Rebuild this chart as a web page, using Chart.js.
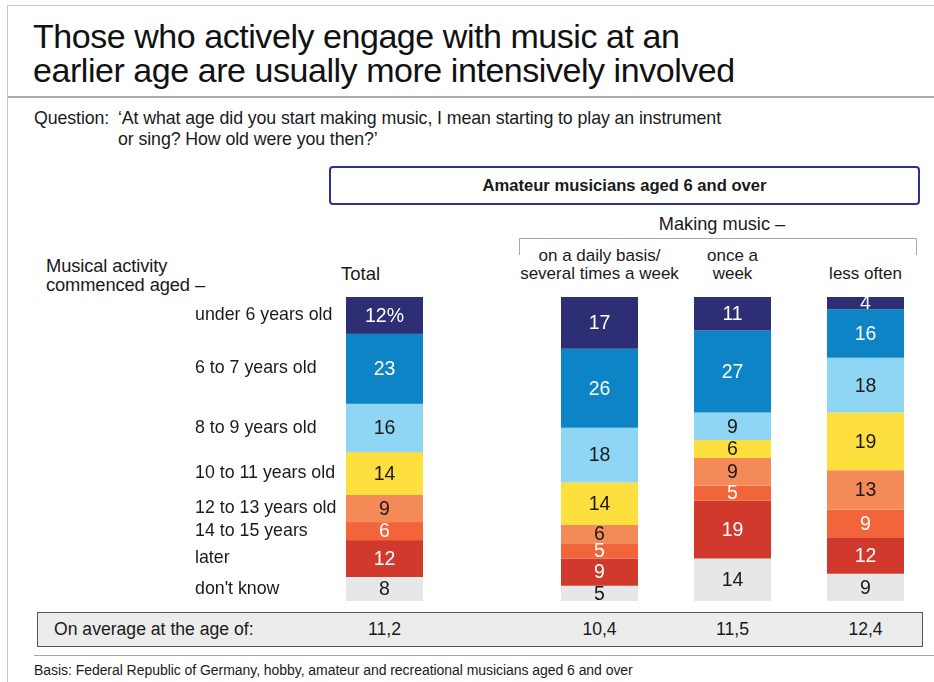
<!DOCTYPE html>
<html>
<head>
<meta charset="utf-8">
<script src="https://cdn.jsdelivr.net/npm/chart.js@4.4.1/dist/chart.umd.min.js"></script>
<style>
  body { margin: 0; background: #fff; font-family: "Liberation Sans", Arial, sans-serif; color: #1a1a1a; }
  #page { position: relative; width: 934px; height: 682px; overflow: hidden; }
  .abs { position: absolute; white-space: nowrap; }
  .frame-top { left: 7px; top: 5px; width: 927px; height: 1px; background: #c8c8c8; }
  .frame-left { left: 7px; top: 5px; width: 1px; height: 677px; background: #c8c8c8; }
  .title { left: 33px; top: 19px; font-size: 34px; line-height: 34px; letter-spacing: -0.45px; color: #111; }
  .rule { left: 8px; top: 96px; width: 926px; height: 2px; background: #ababab; }
  .q { font-size: 17.8px; line-height: 21px; letter-spacing: -0.1px; }
  .hdrbox { left: 329px; top: 166px; width: 587px; height: 35px; border: 2px solid #2e3192; border-radius: 4px;
            font-size: 16.6px; font-weight: bold; text-align: center; line-height: 35px; }
  .col { font-size: 17px; line-height: 18px; text-align: center; transform: translateX(-50%); }
  .bracket { left: 519px; top: 238px; width: 396px; height: 16px; border: 1px solid #a8a8a8; border-bottom: none; }
  .avgbox { left: 37px; top: 612px; width: 884px; height: 33px; background: #ececec; border: 1px solid #555; }
  .avg { top: 619px; font-size: 17.6px; }
  .avgval { transform: translateX(-50%); }
  .rule2 { left: 34px; top: 655px; width: 900px; height: 1px; background: #a8a8a8; }
  .basis { left: 34px; top: 662px; font-size: 14px; letter-spacing: -0.05px; }
  canvas { position: absolute; }
</style>
</head>
<body>
<div id="page">
  <div class="abs frame-top"></div>
  <div class="abs frame-left"></div>
  <div class="abs title">Those who actively engage with music at an<br>earlier age are usually more intensively involved</div>
  <div class="abs rule"></div>
  <div class="abs q" style="left:34px; top:108px;">Question:</div>
  <div class="abs q" style="left:118px; top:108px;">‘At what age did you start making music, I mean starting to play an instrument<br>or sing? How old were you then?’</div>
  <div class="abs hdrbox">Amateur musicians aged 6 and over</div>
  <div class="abs col" style="left:722px; top:215px; font-size:18.2px;">Making music –</div>
  <div class="abs bracket"></div>
  <div class="abs q" style="left:46px; top:256px; line-height:19px; font-size:18.3px;">Musical activity<br>commenced aged –</div>
  <div id="colHeads"></div>
  <div class="abs avgbox"></div>
  <div class="abs avg" style="left:54px;">On average at the age of:</div>
  <div id="avgVals"></div>
  <div class="abs rule2"></div>
  <div class="abs basis">Basis: Federal Republic of Germany, hobby, amateur and recreational musicians aged 6 and over</div>

  <canvas id="totalChart" style="left:180px; top:290px;" width="260" height="320"></canvas>
  <canvas id="freqChart" style="left:520px; top:290px;" width="414" height="320"></canvas>
</div>

<script>
// ── Data ─────────────────────────────────────────────────────
const ageGroups = [
  "under 6 years old", "6 to 7 years old", "8 to 9 years old", "10 to 11 years old",
  "12 to 13 years old", "14 to 15 years", "later", "don't know"
];
const columnHeads = [
  ["", "Total"],
  ["on a daily basis/", "several times a week"],
  ["once a", "week"],
  ["", "less often"]
];
const totalShares     = [12, 23, 16, 14, 9, 6, 12, 8];
const dailyShares     = [17, 26, 18, 14, 6, 5, 9, 5];
const weeklyShares    = [11, 27, 9, 6, 9, 5, 19, 14];
const lessOftenShares = [4, 16, 18, 19, 13, 9, 12, 9];
const averageAges     = ["11,2", "10,4", "11,5", "12,4"];

const segmentColors = ["#2d2e74", "#0c84c6", "#8fd5f4", "#fde03d", "#f58a59", "#f2653b", "#d0392c", "#e6e7e9"];
const labelColors   = ["#fff", "#fff", "#1a1a1a", "#1a1a1a", "#1a1a1a", "#fff", "#fff", "#1a1a1a"];

// ── Shared options ───────────────────────────────────────────
function baseOptions(padding, catPct) {
  return {
    responsive: false,
    animation: false,
    layout: { padding },
    datasets: { bar: { barPercentage: 1, categoryPercentage: catPct } },
    plugins: { legend: { display: false }, tooltip: { enabled: false } },
    scales: {
      x: { stacked: true, display: false },
      y: { stacked: true, display: false, min: 0, max: 100, reverse: true }
    }
  };
}

// Value printed in the middle of every segment
const segmentValues = {
  id: "segmentValues",
  afterDatasetsDraw(chart) {
    const ctx = chart.ctx;
    ctx.save();
    ctx.font = "19.5px 'Liberation Sans', Arial, sans-serif";
    ctx.textAlign = "center";
    ctx.textBaseline = "middle";
    chart.data.datasets.forEach((ds, i) => {
      chart.getDatasetMeta(i).data.forEach((bar, j) => {
        let txt = String(ds.data[j]);
        if (chart.canvas.id === "totalChart" && i === 0) txt += "%";
        ctx.fillStyle = labelColors[i];
        ctx.fillText(txt, bar.x, (bar.y + bar.base) / 2 + 1);
      });
    });
    ctx.restore();
  }
};

// Age group names to the left of the Total bar
const rowLabels = {
  id: "rowLabels",
  afterDatasetsDraw(chart) {
    const ctx = chart.ctx;
    ctx.save();
    ctx.font = "17.8px 'Liberation Sans', Arial, sans-serif";
    ctx.textAlign = "left";
    ctx.textBaseline = "middle";
    ctx.fillStyle = "#1a1a1a";
    ageGroups.forEach((name, i) => {
      const bar = chart.getDatasetMeta(i).data[0];
      ctx.fillText(name, 15, (bar.y + bar.base) / 2);
    });
    ctx.restore();
  }
};

// ── Charts ───────────────────────────────────────────────────
const totalChart = new Chart(document.getElementById("totalChart"), {
  type: "bar",
  data: {
    labels: ["Total"],
    datasets: ageGroups.map((g, i) => ({
      label: g, data: [totalShares[i]], backgroundColor: segmentColors[i], borderWidth: 0
    }))
  },
  options: baseOptions({ left: 166, right: 17, top: 7, bottom: 9 }, 1),
  plugins: [segmentValues, rowLabels]
});

const freqChart = new Chart(document.getElementById("freqChart"), {
  type: "bar",
  data: {
    labels: ["daily", "weekly", "less often"],
    datasets: ageGroups.map((g, i) => ({
      label: g,
      data: [dailyShares[i], weeklyShares[i], lessOftenShares[i]],
      backgroundColor: segmentColors[i],
      borderWidth: 0
    }))
  },
  options: baseOptions({ left: 13, right: 2, top: 7, bottom: 9 }, 77 / 133),
  plugins: [segmentValues]
});

// ── Column headings and averages, placed on the bar centres ──
const centres = [
  180 + totalChart.scales.x.getPixelForValue(0),
  520 + freqChart.scales.x.getPixelForValue(0),
  520 + freqChart.scales.x.getPixelForValue(1),
  520 + freqChart.scales.x.getPixelForValue(2)
];
const heads = document.getElementById("colHeads");
const avgs = document.getElementById("avgVals");
columnHeads.forEach((lines, i) => {
  const x = i === 0 ? centres[0] - 24 : centres[i];
  const size = i === 0 ? 18.5 : 17;
  heads.innerHTML += `<div class="abs col" style="left:${x}px; top:247px; font-size:${size}px;">${lines[0] || "&nbsp;"}<br>${lines[1]}</div>`;
  avgs.innerHTML += `<div class="abs avg avgval" style="left:${centres[i]}px;">${averageAges[i]}</div>`;
});
</script>
</body>
</html>
